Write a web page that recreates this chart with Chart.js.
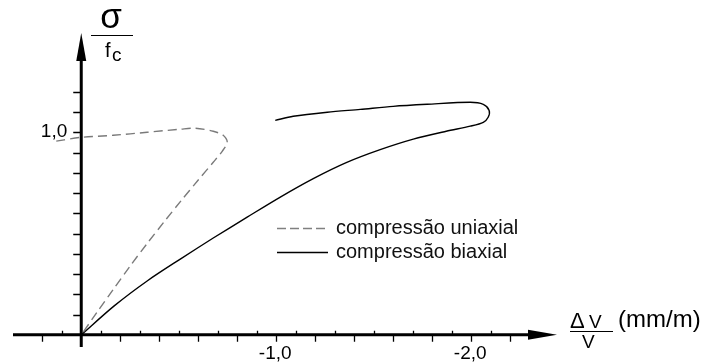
<!DOCTYPE html>
<html>
<head>
<meta charset="utf-8">
<script src="https://cdn.jsdelivr.net/npm/chart.js@4"></script>
<style>
  html, body { margin: 0; padding: 0; background: #fff; }
  #wrap { width: 711px; height: 363px; }
</style>
</head>
<body>
<div id="wrap"><canvas id="c" width="711" height="363"></canvas></div>
<script>
// ---- data (x = ΔV/V in mm/m, y = σ/fc) ----
const uniaxialX = [0.128, 0.0, -0.164, -0.338, -0.508, -0.585, -0.677, -0.728, -0.749, -0.723, -0.677, -0.600, -0.513, -0.426, -0.338, -0.251, -0.164, -0.082, 0.0];
const uniaxialY = [0.956, 0.975, 0.985, 1.000, 1.015, 1.020, 1.005, 0.985, 0.951, 0.906, 0.852, 0.764, 0.663, 0.559, 0.451, 0.340, 0.224, 0.113, 0.0];
const biaxialX = [0.0, -0.169, -0.338, -0.508, -0.677, -0.851, -1.021, -1.190, -1.359, -1.533, -1.703, -1.872, -1.995, -2.062, -2.087, -2.092, -2.062, -1.995, -1.774, -1.600, -1.431, -1.262, -1.087, -0.995];
const biaxialY = [0.0, 0.143, 0.266, 0.374, 0.478, 0.581, 0.680, 0.771, 0.850, 0.914, 0.966, 1.005, 1.030, 1.049, 1.074, 1.108, 1.138, 1.148, 1.138, 1.128, 1.113, 1.099, 1.079, 1.059];
const seriesNames = ['compressão uniaxial', 'compressão biaxial'];
const xTickValues = [-1.0, -2.0];
const xTickLabels = ['-1,0', '-2,0'];
const yTickValues = [1.0];
const yTickLabels = ['1,0'];
const xMinorTicks = [0.2, 0.1, -0.1, -0.2, -0.3, -0.4, -0.5, -0.6, -0.7, -0.8, -0.9, -1.0, -1.1, -1.2, -1.3, -1.4, -1.5, -1.6, -1.7, -1.8, -1.9, -2.0, -2.1, -2.2];
const yMinorTicks = [0.1, 0.2, 0.3, 0.4, 0.5, 0.6, 0.7, 0.8, 0.9, 1.0, 1.1, 1.2];

function pts(xs, ys) { return xs.map((x, i) => ({ x: x, y: ys[i] })); }

const FONT = '"Liberation Sans", Arial, sans-serif';

const axesPlugin = {
  id: 'axesPlugin',
  afterDraw(chart) {
    const ctx = chart.ctx;
    const xs = chart.scales.x, ys = chart.scales.y;
    const ox = xs.getPixelForValue(0), oy = ys.getPixelForValue(0);
    const xEnd = xs.getPixelForValue(xs.min);   // right end (reversed axis)
    const xStart = xs.getPixelForValue(xs.max); // left end
    const yTop = ys.getPixelForValue(ys.max);
    const yBot = ys.getPixelForValue(ys.min);
    ctx.save();
    ctx.fillStyle = '#000';
    ctx.strokeStyle = '#000';
    // axes lines
    ctx.lineWidth = 3;
    ctx.beginPath();
    ctx.moveTo(xStart, oy); ctx.lineTo(xEnd - 20, oy);
    ctx.moveTo(ox, yBot); ctx.lineTo(ox, yTop + 20);
    ctx.stroke();
    // arrowheads
    ctx.beginPath();
    ctx.moveTo(xEnd, oy); ctx.lineTo(xEnd - 29, oy - 5); ctx.lineTo(xEnd - 29, oy + 5); ctx.closePath();
    ctx.fill();
    ctx.beginPath();
    ctx.moveTo(ox, yTop); ctx.lineTo(ox - 5, yTop + 28); ctx.lineTo(ox + 5, yTop + 28); ctx.closePath();
    ctx.fill();
    // ticks
    ctx.lineWidth = 1.3;
    ctx.beginPath();
    xMinorTicks.forEach(v => {
      const px = Math.round(xs.getPixelForValue(v)) + 0.5;
      const k = Math.round(Math.abs(v) * 10);
      if (k % 2 === 1) { ctx.moveTo(px, oy - 4); ctx.lineTo(px, oy); }
      else { ctx.moveTo(px, oy); ctx.lineTo(px, oy + 7); }
    });
    yMinorTicks.forEach(v => {
      const py = Math.round(ys.getPixelForValue(v)) + 0.5;
      ctx.moveTo(ox - 8, py); ctx.lineTo(ox, py);
    });
    ctx.stroke();
    // tick labels
    ctx.font = '19px ' + FONT;
    ctx.textBaseline = 'alphabetic';
    ctx.textAlign = 'center';
    xTickValues.forEach((v, i) => {
      ctx.fillText(xTickLabels[i], xs.getPixelForValue(v) - 1, oy + 24);
    });
    ctx.textAlign = 'right';
    yTickValues.forEach((v, i) => {
      ctx.fillText(yTickLabels[i], ox - 14, ys.getPixelForValue(v) + 5);
    });
    // y title: sigma / f_c
    ctx.textAlign = 'center';
    ctx.font = '35px ' + FONT;
    ctx.fillText('σ', 111, 28);
    ctx.lineWidth = 1.2;
    ctx.beginPath(); ctx.moveTo(91, 35.5); ctx.lineTo(133, 35.5); ctx.stroke();
    ctx.textAlign = 'left';
    ctx.font = '20px ' + FONT;
    ctx.fillText('f', 105, 57);
    ctx.font = '19px ' + FONT;
    ctx.fillText('c', 112, 61);
    // x title: ΔV / V (mm/m)
    ctx.font = '22px ' + FONT;
    ctx.fillText('Δ', 570, 328);
    ctx.font = '19px ' + FONT;
    ctx.fillText('V', 589, 328);
    ctx.beginPath(); ctx.moveTo(570, 331.5); ctx.lineTo(613, 331.5); ctx.stroke();
    ctx.fillText('V', 582, 348);
    ctx.font = '24px ' + FONT;
    ctx.fillText('(mm/m)', 618, 327);
    // legend
    ctx.lineWidth = 1.3;
    ctx.strokeStyle = '#808080';
    ctx.setLineDash([9, 4]);
    ctx.beginPath(); ctx.moveTo(277, 228.5); ctx.lineTo(328, 228.5); ctx.stroke();
    ctx.setLineDash([]);
    ctx.strokeStyle = '#000';
    ctx.beginPath(); ctx.moveTo(277, 252.5); ctx.lineTo(328, 252.5); ctx.stroke();
    ctx.font = '20px ' + FONT;
    ctx.fillStyle = '#111';
    ctx.fillText(seriesNames[0], 336, 234);
    ctx.fillText(seriesNames[1], 336, 258);
    ctx.restore();
  }
};

new Chart(document.getElementById('c'), {
  type: 'scatter',
  data: {
    datasets: [
      { label: seriesNames[0], data: pts(uniaxialX, uniaxialY), showLine: true, borderColor: '#7a7a7a', borderWidth: 1.4, borderDash: [9, 5], pointRadius: 0, tension: 0.3, fill: false },
      { label: seriesNames[1], data: pts(biaxialX, biaxialY), showLine: true, borderColor: '#000', borderWidth: 1.4, pointRadius: 0, tension: 0.3, fill: false }
    ]
  },
  options: {
    responsive: false,
    animation: false,
    layout: { padding: { left: 13, right: 154, top: 33, bottom: 16 } },
    plugins: { legend: { display: false }, tooltip: { enabled: false } },
    scales: {
      x: { type: 'linear', min: -2.44, max: 0.35, reverse: true, display: false },
      y: { type: 'linear', min: -0.06, max: 1.49, display: false }
    }
  },
  plugins: [axesPlugin]
});
</script>
</body>
</html>
